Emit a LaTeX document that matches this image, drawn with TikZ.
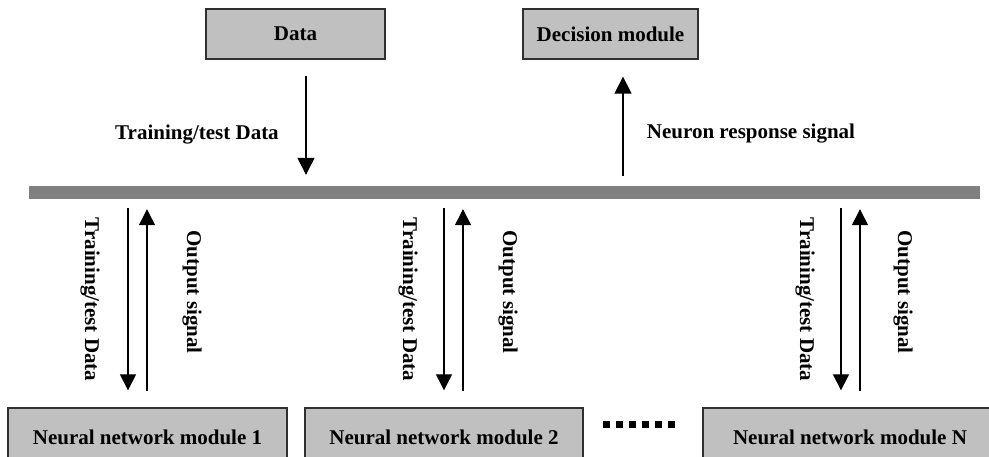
\documentclass[tikz,border=0pt]{standalone}
\usepackage{fontspec}
\setmainfont{Liberation Serif}
\usetikzlibrary{arrows.meta}
\definecolor{boxfill}{HTML}{C0C0C0}
\definecolor{busgray}{HTML}{808080}
\definecolor{edgegray}{HTML}{303030}
\tikzset{
  module/.style={draw=edgegray, line width=1.3pt, fill=boxfill, inner sep=0pt,
    font=\fontsize{21}{25}\selectfont\bfseries},
  lbl/.style={inner sep=0pt, font=\fontsize{21}{25}\selectfont\bfseries},
  arr/.style={line width=1.3pt, -{Triangle[length=17pt,width=17pt]}},
  sarr/.style={line width=1.3pt, -{Triangle[length=16pt,width=16pt]}},
  dots/.style={line width=7pt, dash pattern=on 7pt off 6pt},
}
\begin{document}
\begin{tikzpicture}[x=1pt,y=-1pt]
\useasboundingbox (0,0) rectangle (989,457);
\clip (0,0) rectangle (989,457);

% top modules
\node[module, minimum width=179pt, minimum height=50pt] (data) at (295.5,34) {Data};
\node[module, minimum width=175pt, minimum height=50pt] (dec) at (610.5,34) {Decision module};

% shared bus
\node[fill=busgray, inner sep=0pt, minimum width=951pt, minimum height=13pt] (bus) at (504.5,192.5) {};

% neural network modules
\node[module, minimum width=279pt, minimum height=58pt] (nn1) at (147.5,437) {Neural network module 1};
\node[module, minimum width=278pt, minimum height=58pt] (nn2) at (444,437) {Neural network module 2};
\node[module, minimum width=294pt, minimum height=58pt] (nnN) at (850,437) {Neural network module N};

% arrow columns
\coordinate (cd) at (306,0);
\coordinate (cr) at (623,0);
\coordinate (d1) at (128,0);  \coordinate (u1) at (147,0);
\coordinate (d2) at (444,0);  \coordinate (u2) at (463,0);
\coordinate (dN) at (841,0);  \coordinate (uN) at (860,0);

% data -> bus, bus -> decision
\draw[arr] ([yshift=-16pt]data.south -| cd) -- ([yshift=11pt]bus.north -| cd);
\draw[arr] ([yshift=10pt]bus.north -| cr) -- ([yshift=-17pt]dec.south -| cr);
\node[lbl] (ltd) at (197,135) {Training/test Data};
\node[lbl] (lnr) at (751,134) {Neuron response signal};

% bus <-> modules
\foreach \d/\u/\m in {d1/u1/nn1, d2/u2/nn2, dN/uN/nnN}{
  \draw[sarr] ([yshift=-9pt]bus.south -| \d) -- ([yshift=17pt]\m.north -| \d);
  \draw[sarr] ([yshift=16pt]\m.north -| \u) -- ([yshift=-10pt]bus.south -| \u);
}
\node[lbl, rotate=-90] (t1) at (90,299.5) {Training/test Data};
\node[lbl, rotate=-90] (o1) at (192,292) {Output signal};
\node[lbl, rotate=-90] (t2) at (408,299.5) {Training/test Data};
\node[lbl, rotate=-90] (o2) at (508,292) {Output signal};
\node[lbl, rotate=-90] (tN) at (805,299.5) {Training/test Data};
\node[lbl, rotate=-90] (oN) at (903,292) {Output signal};

% ellipsis between modules
\coordinate (ds) at (603,424.5);
\coordinate (de) at (676,424.5);
\draw[dots] (ds) -- (de);
\end{tikzpicture}
\end{document}
